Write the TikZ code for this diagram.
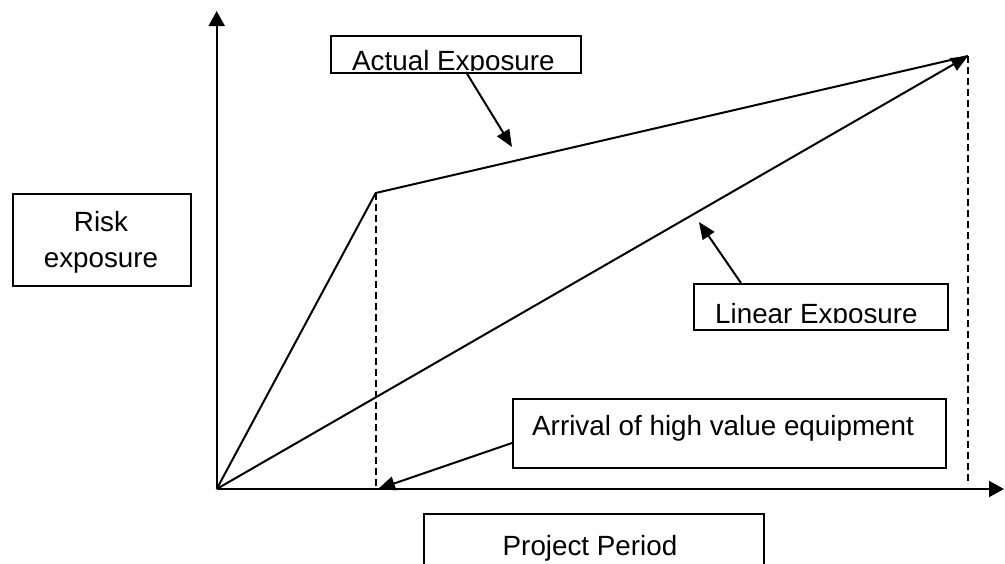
\documentclass[tikz,border=0pt]{standalone}
\usepackage{fontspec}
\setmainfont{Liberation Sans}
\usetikzlibrary{arrows.meta}
\begin{document}
\begin{tikzpicture}[x=1pt,y=-1pt,
  every node/.style={font={\fontsize{27.8}{36}\selectfont}},
  box/.style={draw, line width=2pt, inner sep=0pt, anchor=north west},
  txt/.style={inner sep=0pt},
  ln/.style={line width=2pt},
  arr/.style={line width=2pt, -{Triangle[length=17pt,width=14pt]}},
  axis/.style={line width=2pt, -{Triangle[length=15pt,width=16pt]}},
  dsh/.style={line width=2pt, dash pattern=on 7pt off 4pt}]
\clip (0,0) rectangle (1005,563);
\fill[white] (0,0) rectangle (1005,563);

% chart points
\coordinate (O) at (216.7,489);
\coordinate (Ytip) at (216.7,11);
\coordinate (Xtip) at (1004,489);
\coordinate (C) at (375.7,193);
\coordinate (T) at (968,56);
\coordinate (Cb) at (375.7,489);
\coordinate (Tb) at (968,484);

% axes
\draw[axis] (O) -- (Ytip);
\draw[axis] (O) -- (Xtip);

% dashed verticals
\draw[dsh] (C) -- (Cb);
\draw[dsh] (T) -- (Tb);

% actual exposure curve
\draw[ln, line join=round] (O) -- (C) -- (T);
% linear exposure
\draw[arr] (O) -- (T);

% boxes
\node[box, minimum width=250pt, minimum height=37pt] (actual) at (330,35) {};
\begin{scope}
  \clip (330,35) rectangle (580,70);
  \node[txt, anchor=base west] (actualtxt) at (352,70.5) {Actual Exposure};
\end{scope}

\node[box, minimum width=254pt, minimum height=46pt] (linear) at (693,283) {};
\begin{scope}
  \clip (693,283) rectangle (947,322.5);
  \node[txt, anchor=base west] (lineartxt) at (715,323) {Linear Exposure};
\end{scope}

\node[box, minimum width=433pt, minimum height=69pt] (arrival) at (512,398) {};
\node[txt, anchor=base west] (arrivaltxt) at (532,435) {Arrival of high value equipment};

\node[box, minimum width=340pt, minimum height=90pt] (period) at (423,513) {};
\node[txt, anchor=base] (periodtxt) at (590,555) {Project Period};

\node[box, minimum width=178pt, minimum height=92pt] (risk) at (12,193) {};
\node[txt, align=center] (risktxt) at (101,242) {Risk\\exposure};

% pointer arrows
\coordinate (aStart) at (466,72);
\coordinate (aTip) at (512,147);
\draw[arr] (aStart) -- (aTip);

\coordinate (lStart) at (741,283);
\coordinate (lTip) at (699,222);
\draw[arr] (lStart) -- (lTip);

\coordinate (rStart) at (512,443);
\coordinate (rTip) at (378,489);
\draw[arr] (rStart) -- (rTip);
\end{tikzpicture}
\end{document}
